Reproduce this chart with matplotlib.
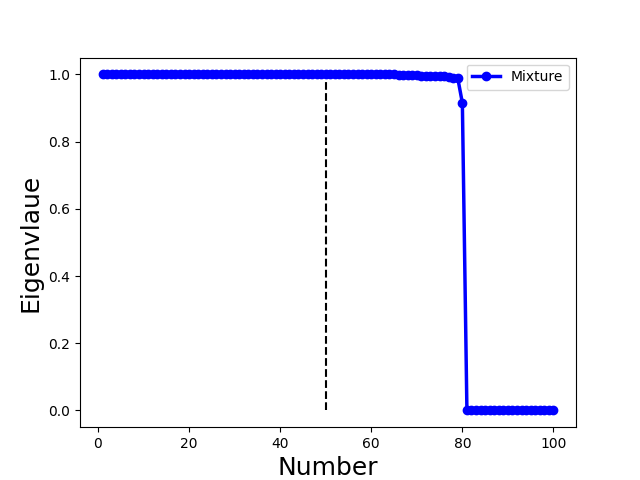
import numpy as np
import matplotlib
matplotlib.use('Agg')
import matplotlib.pyplot as plt

number = list(range(1, 101))
eig_head = [1.0] * 65
eig_tail = [0.998, 0.997, 0.997, 0.997, 0.997, 0.996, 0.996, 0.996, 0.996, 0.995,
            0.994, 0.992, 0.990, 0.988, 0.915]
eig_zero = [0.0] * 20
eigenvalue = eig_head + eig_tail + eig_zero

cut_x = 50
cut_top = 0.976

fig = plt.figure(figsize=(6.4, 4.8), dpi=100)
ax = fig.add_subplot(1, 1, 1)
ax.plot(number, eigenvalue, 'b-o', linewidth=2.5, markersize=6, label='Mixture')
ax.plot([cut_x, cut_x], [0, cut_top], 'k--', linewidth=1.5)
ax.set_xlabel('Number', fontsize=18)
ax.set_ylabel('Eigenvlaue', fontsize=18)
ax.legend(loc='upper right')
fig.savefig('out.png')
